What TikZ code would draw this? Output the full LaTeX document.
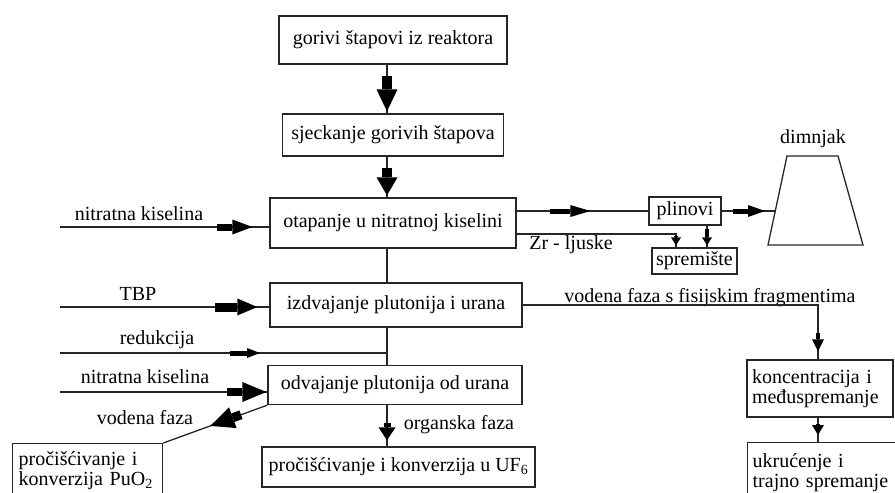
\documentclass[tikz,border=0pt]{standalone}
\usepackage{fontspec}
\setmainfont{Liberation Serif}
\usetikzlibrary{arrows.meta}
\begin{document}
\begin{tikzpicture}
      [x=1pt, y=-1pt,
      every node/.style={inner sep=0pt, font=\fontsize{20}{20}\selectfont},
      box/.style={draw=black!85, line width=1.3pt},
      conn/.style={draw=black!85, line width=1.3pt},
      fat/.style n args={3}{line width=#1pt, -{Triangle[length=#2pt, width=#3pt, line width=0pt]}},
      ]
      \useasboundingbox (0,0) rectangle (895,493);
      \clip (0,0) rectangle (895,493);
      \coordinate (sp) at (387,0);
      \coordinate (kc) at (818,0);

      % main column
      \node[box, minimum width=228pt, minimum height=48pt] (gorivi) at (393,40) {gorivi štapovi iz reaktora};
      \node[box, minimum width=221pt, minimum height=42pt] (sjeck) at (393,135) {sjeckanje gorivih štapova};
      \node[box, minimum width=246pt, minimum height=50pt] (otap) at (393,223) {otapanje u nitratnoj kiselini};
      \node[box, minimum width=252pt, minimum height=44pt] (izdv) at (396,305) {izdvajanje plutonija i urana};
      \node[box, minimum width=254pt, minimum height=39pt] (odv) at (395,385) {odvajanje plutonija od urana};
      \node[box, minimum width=273pt, minimum height=40pt] (uf) at (398.5,467) {pročišćivanje i konverzija u UF\textsubscript{6}};
      \node[box, anchor=north west, align=left, text width=138pt, inner xsep=6pt, inner ysep=8pt, text depth=40pt] (pu) at (12,443) {pročišćivanje i\\konverzija PuO\textsubscript{2}};

      % right side
      \node[box, minimum width=72pt, minimum height=28pt] (plin) at (685,211) {plinovi};
      \node[box, minimum width=85pt, minimum height=26pt] (sprem) at (694.5,261) {spremište};
      \draw[box] (787,156) -- (838,156) -- (863,245) -- (768,245) -- cycle;
      \coordinate (dim) at (775,211);
      \node (dimlab) at (813,139) {dimnjak};
      \node[box, align=left, text width=136pt, inner xsep=5pt, minimum height=57pt] (konc) at (820,388.5) {koncentracija i\\međuspremanje};
      \node[box, anchor=north west, align=left, text width=160pt, inner xsep=5pt, inner ysep=11pt, text depth=40pt] (ukr) at (747,442) {ukrućenje i\\trajno spremanje};

      % inputs from the left
      \coordinate (nit1) at (60,227);
      \coordinate (tbp) at (60,307);
      \coordinate (red) at (60,353);
      \coordinate (nit2) at (60,392);
      \node (nit1lab) at (139,214) {nitratna kiselina};
      \node (tbplab) at (138,294) {TBP};
      \node (redlab) at (157,340) {redukcija};
      \node (nit2lab) at (145,377) {nitratna kiselina};
      \node (vodlab) at (145,418) {vodena faza};
      \node (orglab) at (459,425) {organska faza};
      \node (zrlab) at (571,245) {Zr - ljuske};
      \node (fislab) at (710,298) {vodena faza s fisijskim fragmentima};

      % connectors
      \draw[conn] (gorivi.south -| sp) -- (sjeck.north -| sp);
      \draw[fat={10}{22}{21}, shorten <=11pt, shorten >=2pt] (gorivi.south -| sp) -- (sjeck.north -| sp);
      \draw[conn] (sjeck.south -| sp) -- (otap.north -| sp);
      \draw[fat={10}{18}{21}, shorten <=11pt, shorten >=2pt] (sjeck.south -| sp) -- (otap.north -| sp);
      \draw[conn] (otap.south -| sp) -- (izdv.north -| sp);
      \draw[conn] (izdv.south -| sp) -- (odv.north -| sp);
      \draw[conn] (odv.south -| sp) -- (uf.north -| sp);
      \draw[fat={7}{13}{17}, shorten <=18pt, shorten >=6pt] (odv.south -| sp) -- (uf.north -| sp);

      \draw[conn] (nit1) -- (nit1 -| otap.west);
      \draw[fat={7}{20}{15}, shorten <=157pt, shorten >=17pt] (nit1) -- (nit1 -| otap.west);
      \draw[conn] (tbp) -- (tbp -| izdv.west);
      \draw[fat={9}{20}{17}, shorten <=155pt, shorten >=12pt] (tbp) -- (tbp -| izdv.west);
      \draw[conn] (red) -- (red -| sp);
      \draw[fat={5}{13}{10}, shorten <=170pt, shorten >=127pt] (red) -- (red -| sp);
      \draw[conn] (nit2) -- (nit2 -| odv.west);
      \draw[fat={8.5}{24}{20}, shorten <=167pt, shorten >=1pt] (nit2) -- (nit2 -| odv.west);

      \draw[conn] (odv.south west) -- (pu.north east);
      \draw[fat={9}{24}{22}, shorten <=28pt, shorten >=50pt] (odv.south west) -- (pu.north east);

      \draw[conn] (otap.east |- plin.west) -- (plin.west);
      \draw[fat={5}{20}{12}, shorten <=33pt, shorten >=58pt] (otap.east |- plin.west) -- (plin.west);
      \draw[conn] (plin.east) -- (dim);
      \draw[fat={5}{17}{12}, shorten <=11pt, shorten >=10pt] (plin.east) -- (dim);

      \coordinate (zr) at (676,234);
      \draw[conn] (zr -| otap.east) -- (zr) -- (zr |- sprem.north);
      \draw[fat={4}{8}{10}, shorten <=2pt, shorten >=2pt] (zr) -- (zr |- sprem.north);
      \coordinate (ps) at (707,0);
      \draw[conn] (plin.south -| ps) -- (sprem.north -| ps);
      \draw[fat={4}{8}{10}, shorten <=3pt, shorten >=2pt] (plin.south -| ps) -- (sprem.north -| ps);

      \draw[conn] (izdv.east) -- (izdv.east -| kc) -- (konc.north -| kc);
      \draw[fat={4.5}{12}{12}, shorten <=28pt, shorten >=8pt] (izdv.east -| kc) -- (konc.north -| kc);
      \draw[conn] (konc.south -| kc) -- (ukr.north -| kc);
      \draw[fat={4.5}{10}{12}, shorten <=6pt, shorten >=7pt] (konc.south -| kc) -- (ukr.north -| kc);
      \end{tikzpicture}
\end{document}
